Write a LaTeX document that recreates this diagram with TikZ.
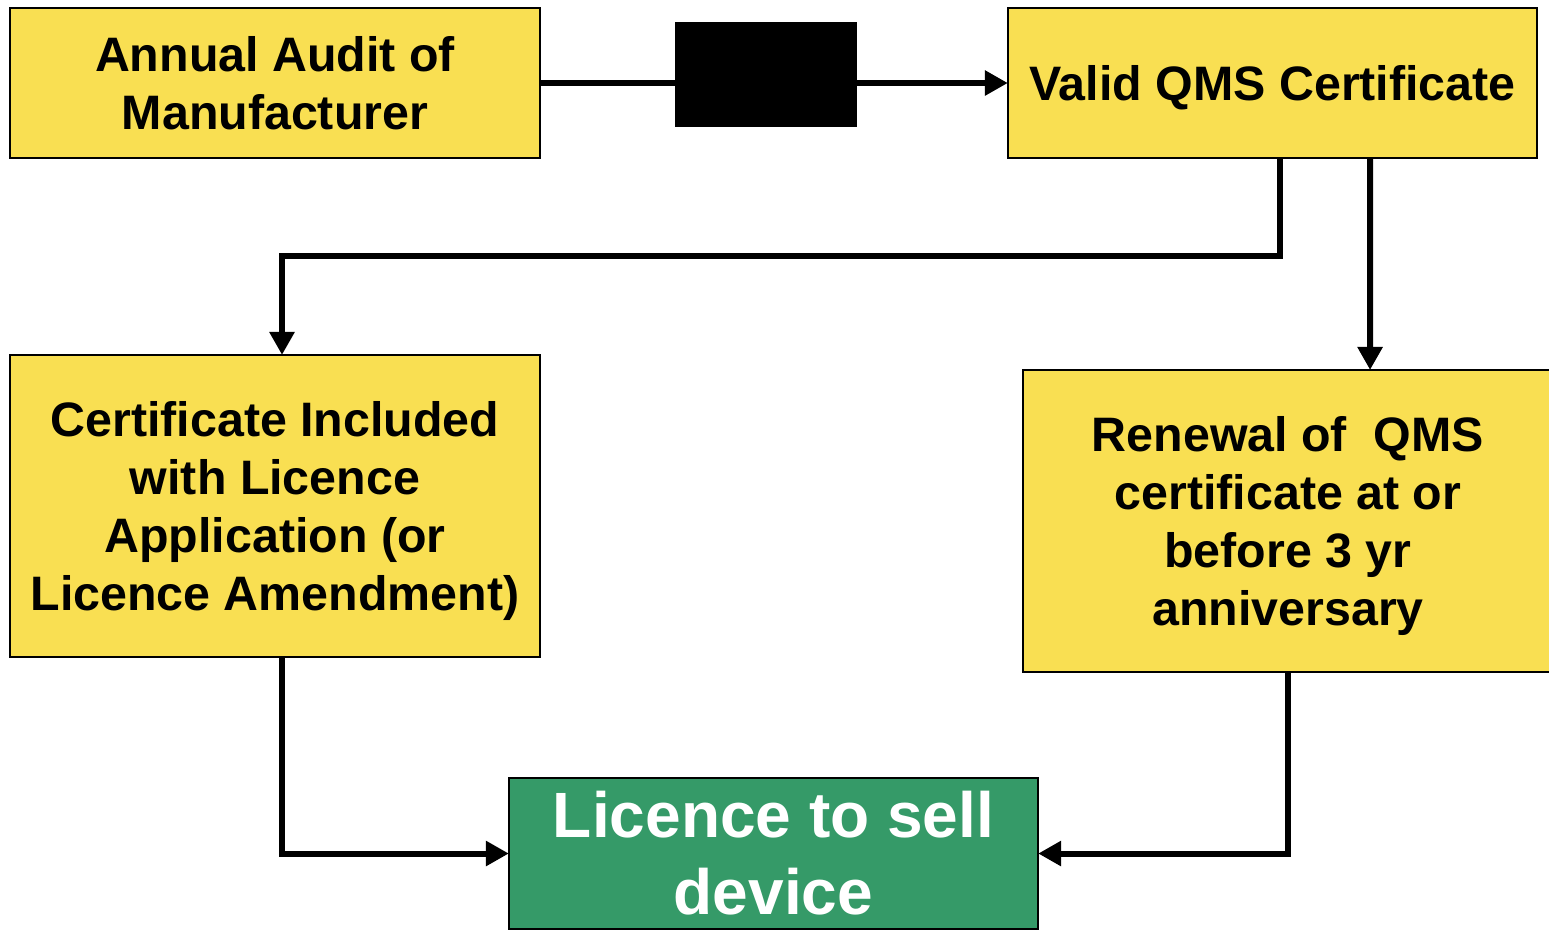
\documentclass[tikz,border=0pt]{standalone}
\usepackage{fontspec}
\setmainfont{Liberation Sans}
\usetikzlibrary{arrows.meta}
\definecolor{boxyellow}{HTML}{F9DF52}
\definecolor{boxgreen}{HTML}{359A68}
\begin{document}
\begin{tikzpicture}[x=0.01cm,y=-0.01cm,
  stepbox/.style = {rectangle,draw=black,line width=0.7pt,fill=boxyellow,align=center,
     font=\fontsize{13.75}{16.5}\selectfont\bfseries,text depth=0pt,inner sep=0pt,outer sep=0pt},
  goalbox/.style = {rectangle,draw=black,line width=0.7pt,fill=boxgreen,text=white,align=center,
     font=\fontsize{18.2}{21.9}\selectfont\bfseries,text depth=0pt,inner sep=0pt,outer sep=0pt},
  flow/.style = {line width=1.7pt,-{Triangle[length=0.23cm,width=0.24cm]}}]
\useasboundingbox (0,0) rectangle (1549,929);
\node[stepbox,text height=26.35pt,minimum width=5.30cm,minimum height=1.50cm] (audit) at (275,83) {Annual Audit of\\Manufacturer};
\node[stepbox,text height=9.85pt,minimum width=5.29cm,minimum height=1.50cm] (valid) at (1272.5,83) {Valid QMS Certificate};
\node[stepbox,text height=59.35pt,minimum width=5.30cm,minimum height=3.02cm] (incl) at (275,506) {Certificate Included\\with Licence\\Application (or\\Licence Amendment)};
\node[stepbox,text height=59.35pt,minimum width=5.30cm,minimum height=3.02cm] (renew) at (1288,521) {Renewal of\ \ QMS\\certificate at or\\before 3 yr\\anniversary};
\node[goalbox,text height=34.93pt,minimum width=5.29cm,minimum height=1.51cm] (licence) at (773.5,853.5) {Licence to sell\\device};
\coordinate (bend) at (700,256);
\draw[flow] (audit.east) -- (valid.west);
\draw[flow] ([xshift=0.075cm]valid.south) |- (bend) -| ([xshift=0.07cm]incl.north);
\draw[flow] ([xshift=0.975cm]valid.south) -- ([xshift=0.82cm]renew.north);
\draw[flow] ([xshift=0.07cm]incl.south) |- (licence.west);
\draw[flow] (renew.south) |- (licence.east);
\node[rectangle,fill=black,minimum width=1.82cm,minimum height=1.05cm,inner sep=0pt] (blk) at (766,74.5) {};
\end{tikzpicture}
\end{document}
